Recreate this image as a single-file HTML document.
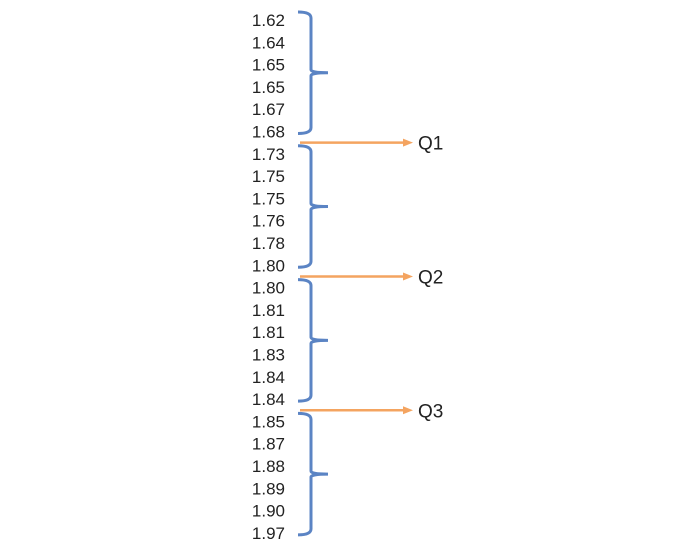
<!DOCTYPE html>
<html><head><meta charset="utf-8"><style>
body{margin:0;background:#fff;}
svg{display:block;font-family:"Liberation Sans",sans-serif;}
</style></head><body>
<svg id="c" width="697" height="551"></svg>
<script>
const values=["1.62","1.64","1.65","1.65","1.67","1.68","1.73","1.75","1.75","1.76","1.78","1.80","1.80","1.81","1.81","1.83","1.84","1.84","1.85","1.87","1.88","1.89","1.90","1.97"];
const quartiles=["Q1","Q2","Q3"];
const svg=document.getElementById('c');
const NS='http://www.w3.org/2000/svg';
const y0=20, dy=22.3;
const yOf=i=>y0+i*dy;
function mk(t,a){const e=document.createElementNS(NS,t);for(const k in a)e.setAttribute(k,a[k]);svg.appendChild(e);return e;}
values.forEach((v,i)=>{
 const t=mk('text',{x:285,y:yOf(i)+6,'text-anchor':'end','font-size':17,fill:'#222'});
 t.textContent=v;
 
 
});
const g=values.length/4;
for(let q=0;q<4;q++){
 const top=yOf(q*g)-8, bot=yOf(q*g+g-1)+2, mid=(top+bot)/2;
 const p=mk('path',{d:`M298 ${top} Q311 ${top} 311 ${top+6} L311 ${mid-3} Q311 ${mid} 328 ${mid} Q311 ${mid} 311 ${mid+3} L311 ${bot-6} Q311 ${bot} 298 ${bot}`,fill:'none',stroke:'#5b84c4','stroke-width':3});
 
 
}
quartiles.forEach((q,i)=>{
 const idx=(i+1)*g;
 const y=(yOf(idx-1)+yOf(idx))/2;
 const l=mk('line',{x1:300,y1:y,x2:405,y2:y,stroke:'#f4a460','stroke-width':2.5});
 
 
 const h=mk('polygon',{points:`403,${y-4} 413,${y} 403,${y+4}`,fill:'#f4a460'});
 
 
 const t=mk('text',{x:418,y:y+7,'font-size':19,fill:'#222'});
 t.textContent=q;
 
 
});
</script>
</body></html>
